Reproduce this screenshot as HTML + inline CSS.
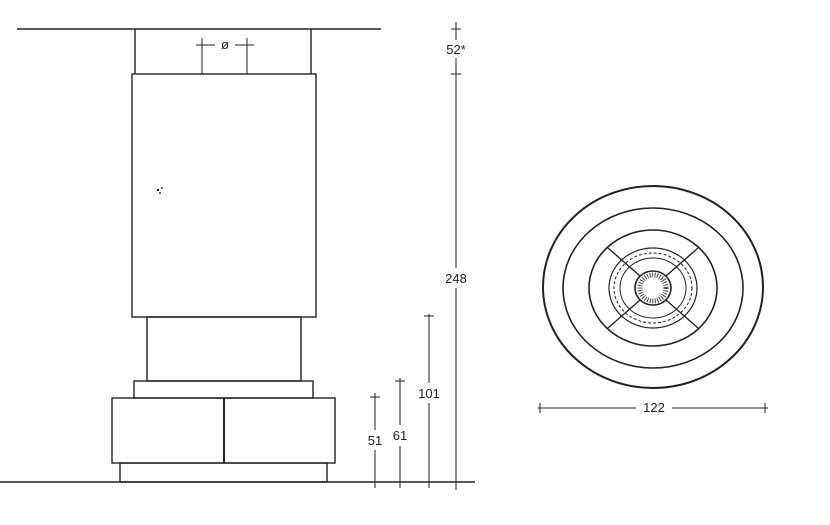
<!DOCTYPE html>
<html><head><style>body{margin:0;background:#fff}svg{display:block}text{font-family:"Liberation Sans",sans-serif;font-size:13px;fill:#222}</style></head><body>
<svg width="830" height="525" viewBox="0 0 830 525" xmlns="http://www.w3.org/2000/svg">
<g stroke="#222" stroke-width="1.4" fill="none">
<line x1="17" y1="29" x2="381" y2="29"/>
<line x1="135" y1="29" x2="135" y2="74"/><line x1="311" y1="29" x2="311" y2="74"/>
<rect x="132" y="74" width="184" height="243"/>
<rect x="147" y="317" width="154" height="64"/>
<rect x="134" y="381" width="179" height="17"/>
<rect x="112" y="398" width="223" height="65"/>
<line x1="224" y1="398" x2="224" y2="463" stroke-width="2"/>
<rect x="120" y="463" width="207" height="19"/>
<line x1="0" y1="482" x2="475" y2="482"/>
</g>
<g stroke="#222" stroke-width="1" fill="none">
<line x1="202" y1="38" x2="202" y2="74"/><line x1="247" y1="38" x2="247" y2="74"/>
<line x1="196" y1="45" x2="215" y2="45"/><line x1="235" y1="45" x2="254" y2="45"/>
<line x1="456" y1="22" x2="456" y2="40"/><line x1="456" y1="58" x2="456" y2="268"/><line x1="456" y1="288" x2="456" y2="490"/>
<line x1="451" y1="29" x2="461" y2="29"/><line x1="451" y1="74" x2="461" y2="74"/><line x1="451" y1="482" x2="461" y2="482"/>
<line x1="429" y1="314" x2="429" y2="383"/><line x1="429" y1="403" x2="429" y2="488"/>
<line x1="424" y1="316" x2="434" y2="316"/><line x1="424" y1="482" x2="434" y2="482"/>
<line x1="400" y1="378" x2="400" y2="425"/><line x1="400" y1="446" x2="400" y2="488"/>
<line x1="395" y1="381" x2="405" y2="381"/>
<line x1="375" y1="393" x2="375" y2="430"/><line x1="375" y1="450" x2="375" y2="488"/>
<line x1="370" y1="397" x2="380" y2="397"/>
<line x1="538" y1="408" x2="636" y2="408"/><line x1="672" y1="408" x2="768" y2="408"/>
<line x1="540" y1="403" x2="540" y2="413"/><line x1="765" y1="403" x2="765" y2="413"/>
</g>
<text x="225" y="49" text-anchor="middle">ø</text>
<text x="456" y="54" text-anchor="middle">52*</text>
<text x="456" y="283" text-anchor="middle">248</text>
<text x="429" y="398" text-anchor="middle">101</text>
<text x="400" y="440" text-anchor="middle">61</text>
<text x="375" y="445" text-anchor="middle">51</text>
<text x="654" y="412" text-anchor="middle">122</text>
<circle cx="158" cy="190" r="1.2" fill="#222"/><circle cx="162" cy="188" r="1" fill="#222"/><circle cx="160" cy="193" r="1" fill="#222"/>
<g stroke="#222" fill="none">
<ellipse cx="653" cy="287" rx="110" ry="101" stroke-width="2"/>
<ellipse cx="653" cy="288" rx="90" ry="80" stroke-width="1.6"/>
<ellipse cx="653" cy="288" rx="64" ry="58" stroke-width="1.6"/>
<ellipse cx="653" cy="288" rx="44" ry="40" stroke-width="1.2"/>
<ellipse cx="653" cy="288" rx="39" ry="35" stroke-width="1" stroke-dasharray="3 2"/>
<ellipse cx="653" cy="288" rx="33" ry="30" stroke-width="1"/>
<ellipse cx="653" cy="288" rx="18" ry="17" stroke-width="1.6"/>
<circle cx="653" cy="288" r="13" stroke-width="5" stroke-dasharray="1 1.5" stroke="#444"/>
<line x1="640" y1="276" x2="608" y2="248" stroke-width="1.4"/>
<line x1="666" y1="276" x2="698" y2="248" stroke-width="1.4"/>
<line x1="640" y1="300" x2="608" y2="328" stroke-width="1.4"/>
<line x1="666" y1="300" x2="698" y2="328" stroke-width="1.4"/>
</g>
</svg>
</body></html>
